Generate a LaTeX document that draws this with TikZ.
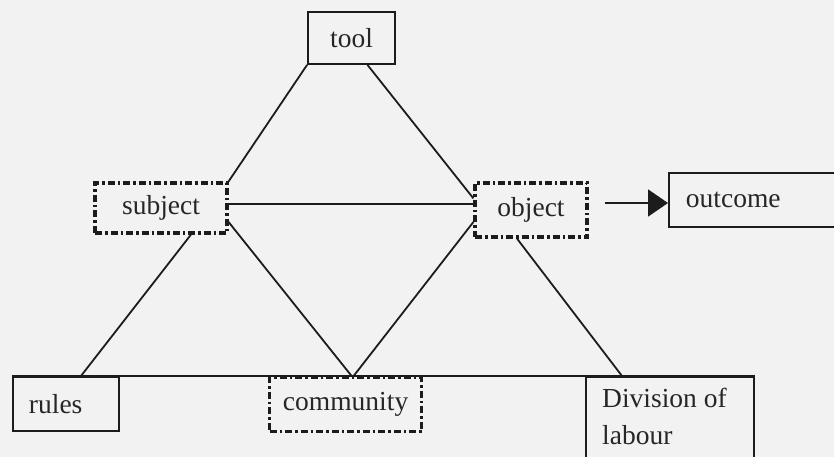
\documentclass[tikz,border=0pt]{standalone}
\usepackage{fontspec}
\setmainfont{Liberation Serif}
\usetikzlibrary{arrows.meta,calc}
\definecolor{ink}{HTML}{1C1C1C}
\definecolor{txt}{HTML}{262626}
\definecolor{paper}{HTML}{F2F2F2}
\begin{document}
\begin{tikzpicture}[x=1pt,y=-1pt,
  every node/.style={font=\fontsize{27.5}{37}\selectfont, text=txt},
  solidbox/.style={draw=ink, line width=1.9pt, inner sep=0pt},
  dashbox/.style={draw=ink, line width=3.2pt,
    dash pattern=on 7pt off 3pt on 2.5pt off 3pt, inner sep=0pt},
  link/.style={draw=ink, line width=1.8pt},
  flow/.style={draw=ink, line width=1.8pt, -{Triangle[length=20pt,width=27pt]}}]
% canvas
\useasboundingbox (0,0) rectangle (834,457);
\clip (0,0) rectangle (834,457);
\fill[paper] (0,0) rectangle (834,457);

% top: mediating tool
\node[solidbox, minimum width=87pt, minimum height=52pt] (tool) at (351.5,38) {tool};

% middle row
\node[dashbox, minimum width=132pt, minimum height=50pt] (subject) at (161,208) {subject};
\node[dashbox, minimum width=112pt, minimum height=54pt] (object) at (531,210) {object};
\node[solidbox, anchor=west, minimum height=54pt, text width=150pt, align=left,
      inner xsep=17pt] (outcome) at (668,200) {outcome};

% bottom row
\node[solidbox, anchor=north west, minimum height=54pt, text width=74pt, align=left,
      inner xsep=16pt] (rules) at (12,376) {rules};
\node[dashbox, anchor=north west, minimum width=152pt, minimum height=54pt]
      (community) at (268,376) {community};
\node[solidbox, anchor=north west, minimum width=168pt, minimum height=100pt]
      (division) at (585,376) {};
\node[anchor=north west, inner sep=0pt, align=left]
      (divtext) at ($(division.north west)+(17,12)$) {Division of\\labour};

% base line joining the bottom row
\draw[link] (rules.north west) -- (division.north east);

% connectors
\draw[link] (tool.south west) -- (subject.north east);
\draw[link] ($(tool.south)+(16,0)$) -- ($(object.north west)+(0,17)$);
\draw[link] ($(subject.east)+(0,-4)$) -- ($(subject.east -| object.west)+(0,-4)$);
\draw[link] ($(subject.south)+(30,0)$) -- ($(rules.north)+(15,0)$);
\draw[link] ($(subject.east)+(0,14)$) -- ($(community.north)+(6,0)$);
\draw[link] ($(object.west)+(0,12)$) -- ($(community.north)+(8,0)$);
\draw[link] ($(object.south)+(-14,0)$) -- ($(division.north west)+(37,0)$);
\draw[flow] ($(object.east)+(16,-7)$) -- ($(object.east -| outcome.west)+(0,-7)$);
\end{tikzpicture}
\end{document}
